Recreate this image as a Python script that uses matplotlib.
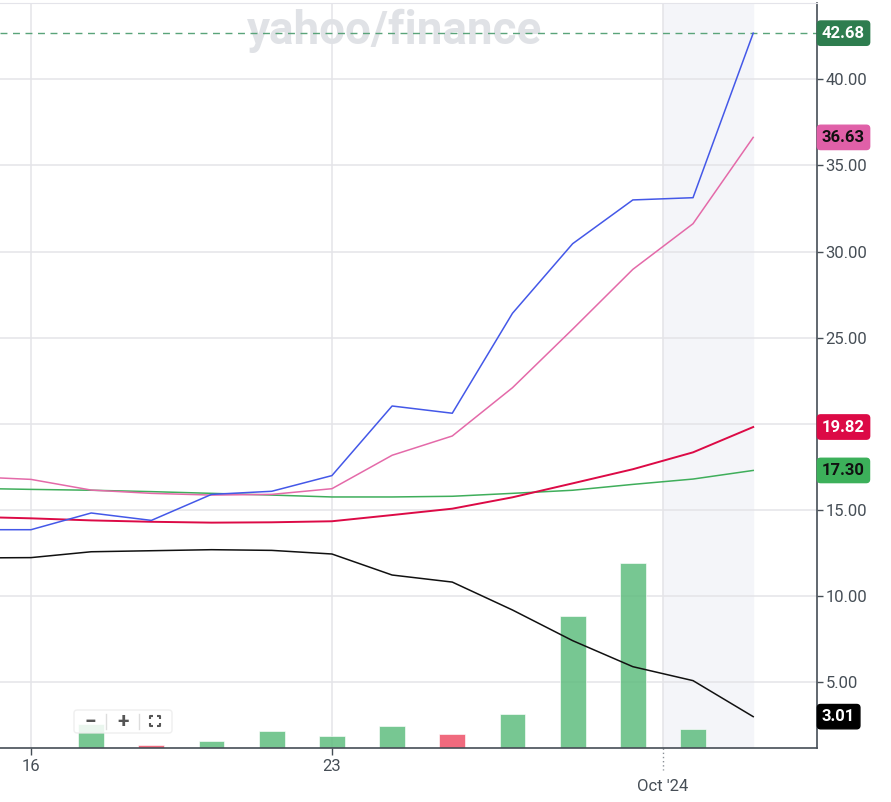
import matplotlib
matplotlib.use('Agg')
import matplotlib.pyplot as plt
from matplotlib.patches import FancyBboxPatch

plt.rcParams['font.family'] = ['Roboto', 'DejaVu Sans']

# trading days, Sep 13 .. Oct 2 2024
dates = ['2024-09-13', '2024-09-16', '2024-09-17', '2024-09-18', '2024-09-19',
         '2024-09-20', '2024-09-23', '2024-09-24', '2024-09-25', '2024-09-26',
         '2024-09-27', '2024-09-30', '2024-10-01', '2024-10-02']
price = [13.86, 13.86, 14.83, 14.40, 15.91, 16.09, 17.00, 21.04, 20.62, 26.42,
         30.46, 33.00, 33.13, 42.68]
ma_pink = [16.94, 16.78, 16.16, 15.97, 15.87, 15.91, 16.24, 18.18, 19.30, 22.10,
           25.50, 28.97, 31.62, 36.63]
ma_red = [14.61, 14.52, 14.40, 14.32, 14.27, 14.29, 14.35, 14.71, 15.08, 15.74,
          16.55, 17.37, 18.35, 19.82]
ma_green = [16.26, 16.20, 16.15, 16.07, 15.97, 15.87, 15.76, 15.76, 15.80, 15.97,
            16.15, 16.49, 16.80, 17.30]
black_line = [12.22, 12.24, 12.58, 12.64, 12.70, 12.66, 12.45, 11.23, 10.82, 9.20,
              7.42, 5.91, 5.10, 3.01]

# volume (millions), Sep 17 .. Oct 1
vol_dates = dates[2:13]
volume = [2.60, 0.33, 0.73, 1.82, 1.27, 2.36, 1.55, 3.70, 14.3, 20.1, 2.07]
vol_up = [True, False, True, True, True, True, False, True, True, True, True]

ytick_vals = [5, 10, 15, 20, 25, 30, 35, 40]
xtick_labels = {'2024-09-16': '16', '2024-09-23': '23'}

# x positions: trading index, Sep 16 = 0
x = [i - 1 for i in range(len(dates))]
xv = [dates.index(d) - 1 for d in vol_dates]

W, H = 891, 802
fig = plt.figure(figsize=(W / 100, H / 100), dpi=100)
pos = [0, 54 / H, 817 / W, 745 / H]
ax_vol = fig.add_axes(pos)
ax = fig.add_axes(pos, sharex=ax_vol)
ax.patch.set_visible(False)

ax_vol.set_xlim(-0.515, 13.06)
ax_vol.set_ylim(0, 80.8)
ax.set_ylim(1.19, 44.43)

# shaded period + grid (under the bars)
ax_vol.axvspan(10.5, 12, color='#f4f5f9', zorder=0)
for v in ytick_vals:
    ax_vol.axhline((v - 1.19) / (44.43 - 1.19) * 80.8, color='#e4e4e8', lw=1.1, zorder=1)
for xx in [0, 5, 10.5]:
    ax_vol.axvline(xx, color='#e4e4e8', lw=1.1, zorder=1)
ax_vol.bar(xv, volume, width=0.43,
           color=['#5fbd7f' if u else '#ee5068' for u in vol_up], alpha=0.85,
           edgecolor='white', linewidth=0.5, zorder=2)
ax_vol.axis('off')

ax.plot(x, black_line, color='#111111', lw=1.1, zorder=3)
ax.plot(x, ma_green, color='#3fae5b', lw=1.1, zorder=3)
ax.plot(x, ma_red, color='#dc0a46', lw=1.4, zorder=3)
ax.plot(x, ma_pink, color='#e46aa9', lw=1.1, zorder=3)
ax.plot(x, price, color='#4458e8', lw=1.1, zorder=4)

ax.axhline(price[-1], color='#5aa47a', lw=1.0, ls=(0, (5, 4)), zorder=2)

# watermark
ax.text(0.483, 0.962, 'yahoo/finance', transform=ax.transAxes, ha='center',
        va='center', fontsize=33, fontweight='bold', color='#e0e2e6', zorder=0)

# axes styling
ax.yaxis.tick_right()
ax.set_yticks(ytick_vals)
# the 20.00 label sits under the 19.82 tag
ax.set_yticklabels(['' if v == 20 else f'{v:.2f}' for v in ytick_vals])
ax.tick_params(axis='y', length=4, width=1, color='#464e56', pad=2,
               labelsize=12, labelcolor='#464e56')
ax.set_xticks([dates.index(d) - 1 for d in xtick_labels])
ax.set_xticklabels(list(xtick_labels.values()))
ax.tick_params(axis='x', length=5, width=1, color='#464e56', pad=3,
               labelsize=12, labelcolor='#464e56')
ax.text(10.5, -0.052, "Oct '24", transform=ax.get_xaxis_transform(),
        ha='center', va='center', fontsize=12, color='#464e56')
ax.plot([10.5, 10.5], [0, -0.03], transform=ax.get_xaxis_transform(),
        color='#8a9097', lw=1, ls=(0, (1, 2)), clip_on=False)

ax.spines['left'].set_visible(False)
ax.spines['top'].set_color('#e4e4ea')
ax.spines['bottom'].set_color('#464e56')
ax.spines['right'].set_color('#464e56')
ax.spines['bottom'].set_linewidth(1.2)
ax.spines['right'].set_linewidth(1.2)

# last value tags
tags = [(price[-1], '#2e7d4f', 'white'),
        (ma_pink[-1], '#e060a8', '#111111'),
        (ma_red[-1], '#dc0a46', 'white'),
        (ma_green[-1], '#3cb05a', '#111111'),
        (black_line[-1], '#000000', 'white')]
for val, bg, fg in tags:
    ax.annotate(f'{val:.2f}', xy=(1, val), xycoords=('axes fraction', 'data'),
                xytext=(5, 0), textcoords='offset pixels', ha='left', va='center',
                fontsize=12, fontweight='bold', color=fg, zorder=6,
                annotation_clip=False,
                bbox=dict(boxstyle='round,pad=0.28,rounding_size=0.2', fc=bg,
                          ec=bg))

# zoom buttons (chart UI), positioned in pixels of the plot area
def fx(px):
    return px / 817

def fy(py):
    return (748 - py) / 745

ax.add_patch(FancyBboxPatch((fx(74), fy(733)), fx(172) - fx(74), fy(710) - fy(733),
                            boxstyle='round,pad=0,rounding_size=0.004',
                            transform=ax.transAxes, fc='white', ec='#ececec',
                            alpha=0.85, lw=1, zorder=6))
for sx in [106, 139]:
    ax.plot([fx(sx), fx(sx)], [fy(714), fy(729)], transform=ax.transAxes,
            color='#dddddd', lw=1, zorder=7)
ax.text(fx(90), fy(722), '\u2212', transform=ax.transAxes, ha='center',
        va='center', fontsize=15, fontweight='bold', color='#555555', zorder=7)
ax.text(fx(123), fy(721), '+', transform=ax.transAxes, ha='center',
        va='center', fontsize=15, fontweight='bold', color='#555555', zorder=7)
# fullscreen icon: four corner brackets
cx, cy, r, t = 155, 721, 5, 3
for sxn in (-1, 1):
    for syn in (-1, 1):
        px, py = cx + sxn * r, cy + syn * r
        ax.plot([fx(px - sxn * t), fx(px), fx(px)],
                [fy(py), fy(py), fy(py - syn * t)], transform=ax.transAxes,
                color='#555555', lw=1.5, zorder=7, solid_capstyle='butt')

fig.savefig('out.png', dpi=100)
